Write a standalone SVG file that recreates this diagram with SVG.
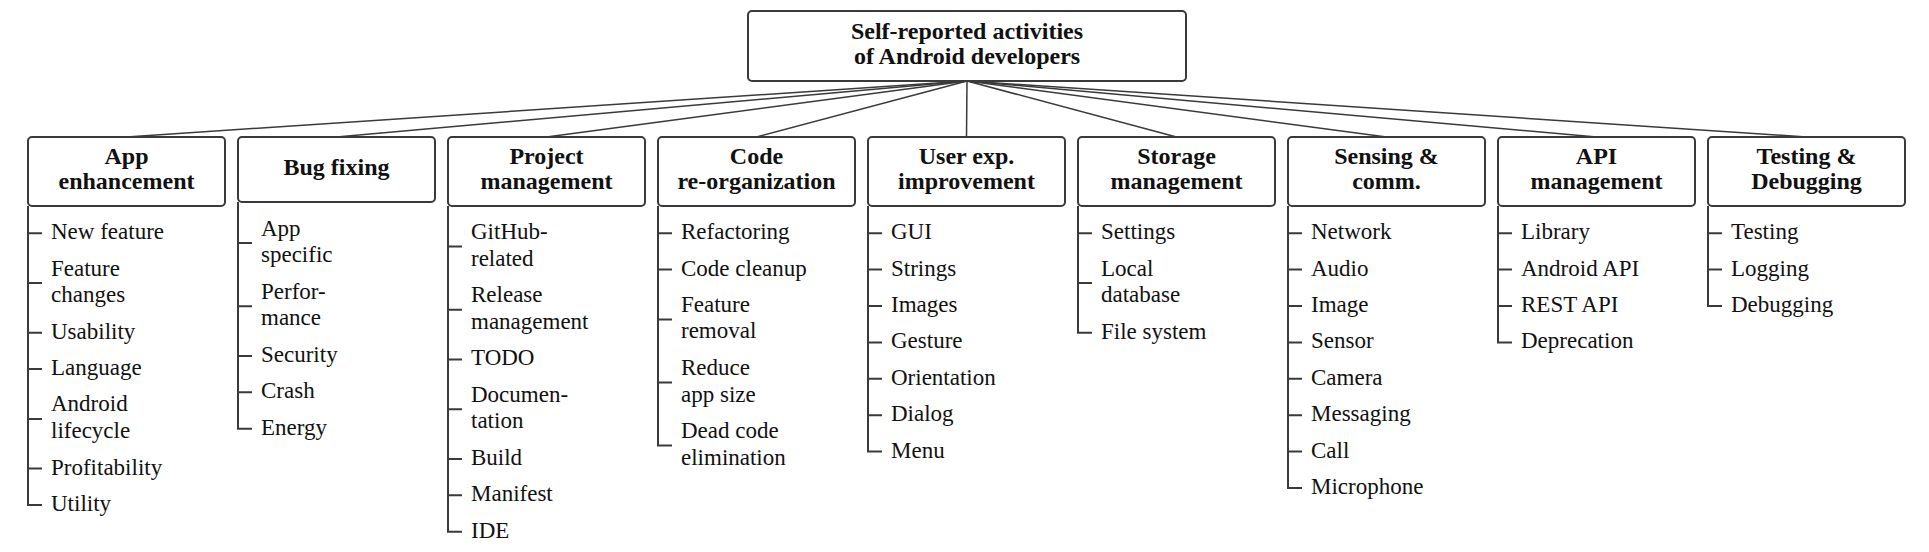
<svg xmlns="http://www.w3.org/2000/svg" width="1929" height="552" viewBox="0 0 1929 552">
<style>
.box{fill:#fff;stroke:#3a3a3a;stroke-width:2}
.con{stroke:#3a3a3a;stroke-width:1.5;fill:none}
.tree{stroke:#3a3a3a;stroke-width:2;fill:none}
.t{font-family:"Liberation Serif",serif;font-size:24px;font-weight:bold;fill:#111;text-anchor:middle}
.i{font-family:"Liberation Serif",serif;font-size:23px;fill:#111}
</style>
<rect width="1929" height="552" fill="#fff"/>
<g id="connectors">
<line class="con" x1="967" y1="81" x2="126.5" y2="137"/>
<line class="con" x1="967" y1="81" x2="336.5" y2="137"/>
<line class="con" x1="967" y1="81" x2="546.5" y2="137"/>
<line class="con" x1="967" y1="81" x2="756.5" y2="137"/>
<line class="con" x1="967" y1="81" x2="966.5" y2="137"/>
<line class="con" x1="967" y1="81" x2="1176.5" y2="137"/>
<line class="con" x1="967" y1="81" x2="1386.5" y2="137"/>
<line class="con" x1="967" y1="81" x2="1596.5" y2="137"/>
<line class="con" x1="967" y1="81" x2="1806.5" y2="137"/>
</g>
<g id="root">
<rect class="box" x="748" y="11" width="438" height="70" rx="4"/>
<text class="t" x="967" y="39">Self-reported activities</text>
<text class="t" x="967" y="64">of Android developers</text>
</g>
<g id="app-enhancement">
<rect class="box" x="28" y="137" width="197" height="69" rx="4"/>
<text class="t" x="126.5" y="163.5">App</text>
<text class="t" x="126.5" y="189">enhancement</text>
<path class="tree" d="M28 206V505H42M28 233.2H42M28 283H42M28 332.7H42M28 369.1H42M28 418.9H42M28 468.6H42"/>
<text class="i" x="51" y="239.2">New feature</text>
<text class="i" x="51" y="275.5">Feature</text>
<text class="i" x="51" y="302">changes</text>
<text class="i" x="51" y="338.7">Usability</text>
<text class="i" x="51" y="375.1">Language</text>
<text class="i" x="51" y="411.4">Android</text>
<text class="i" x="51" y="438">lifecycle</text>
<text class="i" x="51" y="474.6">Profitability</text>
<text class="i" x="51" y="511">Utility</text>
</g>
<g id="bug-fixing">
<rect class="box" x="238" y="137" width="197" height="65" rx="4"/>
<text class="t" x="336.5" y="175">Bug fixing</text>
<path class="tree" d="M238 202V428.7H252M238 243H252M238 306.2H252M238 355.9H252M238 392.3H252"/>
<text class="i" x="261" y="235.5">App</text>
<text class="i" x="261" y="262">specific</text>
<text class="i" x="261" y="298.7">Perfor-</text>
<text class="i" x="261" y="325.3">mance</text>
<text class="i" x="261" y="361.9">Security</text>
<text class="i" x="261" y="398.3">Crash</text>
<text class="i" x="261" y="434.7">Energy</text>
</g>
<g id="project-management">
<rect class="box" x="448" y="137" width="197" height="69" rx="4"/>
<text class="t" x="546.5" y="163.5">Project</text>
<text class="t" x="546.5" y="189">management</text>
<path class="tree" d="M448 206V531.7H462M448 246.6H462M448 309.7H462M448 359.4H462M448 409.2H462M448 458.9H462M448 495.3H462"/>
<text class="i" x="471" y="239">GitHub-</text>
<text class="i" x="471" y="265.6">related</text>
<text class="i" x="471" y="302.1">Release</text>
<text class="i" x="471" y="328.7">management</text>
<text class="i" x="471" y="365.4">TODO</text>
<text class="i" x="471" y="401.6">Documen-</text>
<text class="i" x="471" y="428.2">tation</text>
<text class="i" x="471" y="464.9">Build</text>
<text class="i" x="471" y="501.3">Manifest</text>
<text class="i" x="471" y="537.7">IDE</text>
</g>
<g id="code-reorganization">
<rect class="box" x="658" y="137" width="197" height="69" rx="4"/>
<text class="t" x="756.5" y="163.5">Code</text>
<text class="t" x="756.5" y="189">re-organization</text>
<path class="tree" d="M658 206V445.6H672M658 233.2H672M658 269.6H672M658 319.4H672M658 382.5H672"/>
<text class="i" x="681" y="239.2">Refactoring</text>
<text class="i" x="681" y="275.6">Code cleanup</text>
<text class="i" x="681" y="311.8">Feature</text>
<text class="i" x="681" y="338.4">removal</text>
<text class="i" x="681" y="374.9">Reduce</text>
<text class="i" x="681" y="401.5">app size</text>
<text class="i" x="681" y="438">Dead code</text>
<text class="i" x="681" y="464.6">elimination</text>
</g>
<g id="user-experience">
<rect class="box" x="868" y="137" width="197" height="69" rx="4"/>
<text class="t" x="966.5" y="163.5">User exp.</text>
<text class="t" x="966.5" y="189">improvement</text>
<path class="tree" d="M868 206V451.6H882M868 233.2H882M868 269.6H882M868 306H882M868 342.4H882M868 378.8H882M868 415.2H882"/>
<text class="i" x="891" y="239.2">GUI</text>
<text class="i" x="891" y="275.6">Strings</text>
<text class="i" x="891" y="312">Images</text>
<text class="i" x="891" y="348.4">Gesture</text>
<text class="i" x="891" y="384.8">Orientation</text>
<text class="i" x="891" y="421.2">Dialog</text>
<text class="i" x="891" y="457.6">Menu</text>
</g>
<g id="storage-management">
<rect class="box" x="1078" y="137" width="197" height="69" rx="4"/>
<text class="t" x="1176.5" y="163.5">Storage</text>
<text class="t" x="1176.5" y="189">management</text>
<path class="tree" d="M1078 206V332.7H1092M1078 233.2H1092M1078 283H1092"/>
<text class="i" x="1101" y="239.2">Settings</text>
<text class="i" x="1101" y="275.5">Local</text>
<text class="i" x="1101" y="302">database</text>
<text class="i" x="1101" y="338.7">File system</text>
</g>
<g id="sensing-communication">
<rect class="box" x="1288" y="137" width="197" height="69" rx="4"/>
<text class="t" x="1386.5" y="163.5">Sensing &amp;</text>
<text class="t" x="1386.5" y="189">comm.</text>
<path class="tree" d="M1288 206V488H1302M1288 233.2H1302M1288 269.6H1302M1288 306H1302M1288 342.4H1302M1288 378.8H1302M1288 415.2H1302M1288 451.6H1302"/>
<text class="i" x="1311" y="239.2">Network</text>
<text class="i" x="1311" y="275.6">Audio</text>
<text class="i" x="1311" y="312">Image</text>
<text class="i" x="1311" y="348.4">Sensor</text>
<text class="i" x="1311" y="384.8">Camera</text>
<text class="i" x="1311" y="421.2">Messaging</text>
<text class="i" x="1311" y="457.6">Call</text>
<text class="i" x="1311" y="494">Microphone</text>
</g>
<g id="api-management">
<rect class="box" x="1498" y="137" width="197" height="69" rx="4"/>
<text class="t" x="1596.5" y="163.5">API</text>
<text class="t" x="1596.5" y="189">management</text>
<path class="tree" d="M1498 206V342.4H1512M1498 233.2H1512M1498 269.6H1512M1498 306H1512"/>
<text class="i" x="1521" y="239.2">Library</text>
<text class="i" x="1521" y="275.6">Android API</text>
<text class="i" x="1521" y="312">REST API</text>
<text class="i" x="1521" y="348.4">Deprecation</text>
</g>
<g id="testing-debugging">
<rect class="box" x="1708" y="137" width="197" height="69" rx="4"/>
<text class="t" x="1806.5" y="163.5">Testing &amp;</text>
<text class="t" x="1806.5" y="189">Debugging</text>
<path class="tree" d="M1708 206V306H1722M1708 233.2H1722M1708 269.6H1722"/>
<text class="i" x="1731" y="239.2">Testing</text>
<text class="i" x="1731" y="275.6">Logging</text>
<text class="i" x="1731" y="312">Debugging</text>
</g>
</svg>
